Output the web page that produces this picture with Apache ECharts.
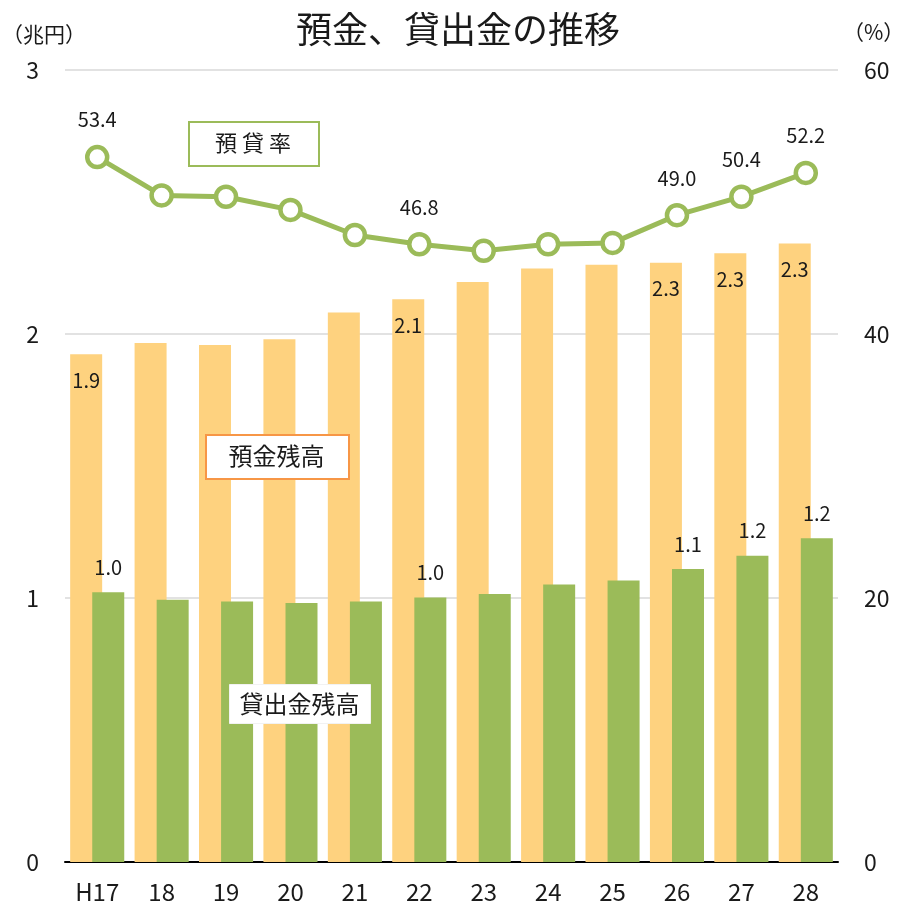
<!DOCTYPE html>
<html>
<head>
<meta charset="utf-8">
<script src="https://cdn.jsdelivr.net/npm/echarts@6/dist/echarts.min.js"></script>
<style>
html,body{margin:0;padding:0;background:#fff;}
#chart{width:899px;height:909px;}
</style>
</head>
<body>
<div id="chart"></div>
<script>
// ---- data ----
const categories = ['H17','18','19','20','21','22','23','24','25','26','27','28'];
const deposits = [1.923, 1.966, 1.958, 1.980, 2.081, 2.132, 2.197, 2.248, 2.262, 2.270, 2.306, 2.343]; // 預金残高 (兆円)
const loans    = [1.022, 0.993, 0.987, 0.981, 0.987, 1.002, 1.015, 1.051, 1.066, 1.110, 1.160, 1.226]; // 貸出金残高 (兆円)
const ratio    = [53.4, 50.5, 50.4, 49.4, 47.5, 46.8, 46.3, 46.8, 46.9, 49.0, 50.4, 52.2];            // 預貸率 (%)
const labelledIdx = [0, 5, 9, 10, 11];
const leftTicks = [0, 1, 2, 3];
const rightTicks = [0, 20, 40, 60];

const FONT = '"Noto Sans CJK JP", "Noto Sans", sans-serif';
const TXT = '#1a1a1a';
const ORANGE = '#FED27F';
const GREEN = '#9BBB59';

function withLabels(arr) {
  return arr.map((v, i) => ({ value: v, label: { show: labelledIdx.includes(i) } }));
}

const chart = echarts.init(document.getElementById('chart'), null, { renderer: 'canvas' });
chart.setOption({
  animation: false,
  backgroundColor: '#fff',
  textStyle: { fontFamily: FONT },
  title: {
    text: '預金、貸出金の推移',
    left: 453, top: 6, textAlign: 'center',
    textStyle: { fontFamily: FONT, fontSize: 36, fontWeight: 'normal', color: TXT }
  },
  grid: { left: 65, right: 61, top: 70, bottom: 47, containLabel: false },
  xAxis: {
    type: 'category',
    data: categories,
    axisLine: { show: true, lineStyle: { color: '#000', width: 2 } },
    axisTick: { show: false },
    axisLabel: { fontFamily: FONT, fontSize: 24, color: TXT, margin: 18 }
  },
  yAxis: [
    {
      type: 'value', min: leftTicks[0], max: leftTicks[leftTicks.length - 1], interval: 1,
      axisLine: { show: false }, axisTick: { show: false },
      axisLabel: { fontFamily: FONT, fontSize: 23, color: TXT, margin: 26 },
      splitLine: { show: true, lineStyle: { color: '#d9d9d9', width: 1.5 } }
    },
    {
      type: 'value', min: rightTicks[0], max: rightTicks[rightTicks.length - 1], interval: 20,
      axisLine: { show: false }, axisTick: { show: false },
      axisLabel: { fontFamily: FONT, fontSize: 23, color: TXT, margin: 26 },
      splitLine: { show: false }
    }
  ],
  series: [
    {
      name: '預金残高', type: 'bar', yAxisIndex: 0,
      data: withLabels(deposits),
      barWidth: 32, barGap: '-31%',
      itemStyle: { color: ORANGE },
      label: {
        position: 'insideTop', distance: 16,
        fontFamily: FONT, fontSize: 20, color: TXT,
        formatter: p => p.value.toFixed(1)
      },
      z: 2
    },
    {
      name: '貸出金残高', type: 'bar', yAxisIndex: 0,
      data: withLabels(loans),
      barWidth: 32,
      itemStyle: { color: GREEN },
      label: {
        position: 'top', distance: 15,
        fontFamily: FONT, fontSize: 20, color: TXT,
        formatter: p => p.value.toFixed(1)
      },
      z: 3
    },
    {
      name: '預貸率', type: 'line', yAxisIndex: 1,
      data: withLabels(ratio),
      symbol: 'circle', symbolSize: 20,
      lineStyle: { color: GREEN, width: 5 },
      itemStyle: { color: '#fff', borderColor: GREEN, borderWidth: 4.5 },
      label: {
        position: 'top', distance: 15,
        fontFamily: FONT, fontSize: 20, color: TXT,
        formatter: p => p.value.toFixed(1)
      },
      z: 5
    }
  ],
  graphic: [
    { type: 'text', left: 2, top: 24, z: 100, style: { text: '（兆円）', font: '21px ' + FONT, fill: TXT } },
    { type: 'text', left: 843, top: 22, z: 100, style: { text: '（%）', font: '21px ' + FONT, fill: TXT } },
    { type: 'rect', left: 188, top: 121, z: 100, shape: { width: 130, height: 44 }, style: { fill: '#fff', stroke: GREEN, lineWidth: 2 } },
    { type: 'text', z: 101,
      style: { text: '預 貸 率', font: '22px ' + FONT, fill: TXT, align: 'center', verticalAlign: 'middle', x: 253, y: 143 } },
    { type: 'rect', left: 205, top: 434, z: 100, shape: { width: 143, height: 44 }, style: { fill: '#fff', stroke: '#F79646', lineWidth: 2 } },
    { type: 'text', z: 101,
      style: { text: '預金残高', font: '24px ' + FONT, fill: TXT, align: 'center', verticalAlign: 'middle', x: 276.5, y: 456 } },
    { type: 'rect', left: 229, top: 684, z: 100, shape: { width: 141, height: 39 }, style: { fill: '#fff', stroke: '#f2f2f2', lineWidth: 1 } },
    { type: 'text', z: 101,
      style: { text: '貸出金残高', font: '24px ' + FONT, fill: TXT, align: 'center', verticalAlign: 'middle', x: 299.5, y: 703.5 } }
  ]
});
</script>
</body>
</html>
